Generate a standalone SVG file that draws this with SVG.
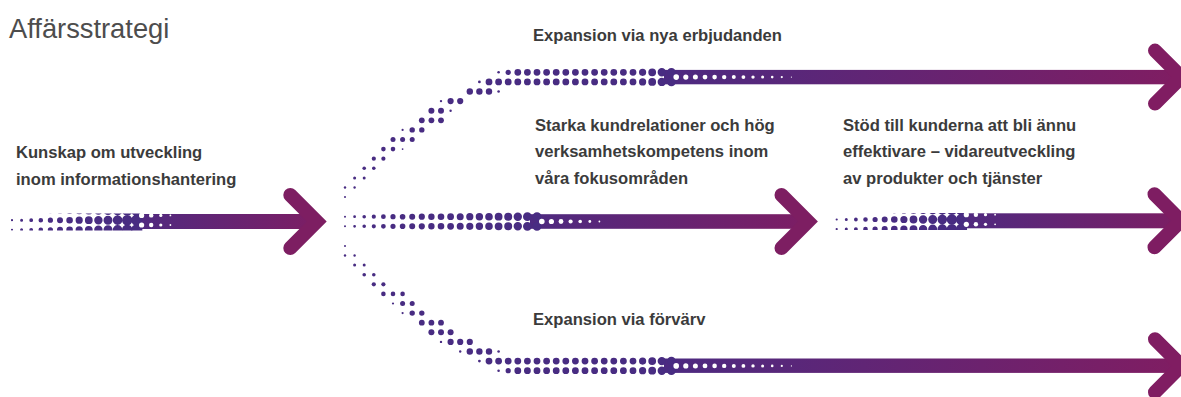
<svg xmlns="http://www.w3.org/2000/svg" xmlns:xlink="http://www.w3.org/1999/xlink" width="1181" height="397" viewBox="0 0 1181 397">
<style>
.dot{fill:#482c82}
.dl{fill:none;stroke:#482c82;stroke-linecap:round;stroke-dasharray:0.01 9.59}
.hole{fill:#fff}
.chev{fill:none;stroke-width:14;stroke-linecap:round;stroke-linejoin:miter;stroke-miterlimit:4}
.lbl{font-family:"Liberation Sans",Arial,sans-serif;font-weight:bold;font-size:16.6px;fill:#3b3b3b}
.title{font-family:"Liberation Sans",Arial,sans-serif;font-size:27.3px;fill:#4d4d4d}
</style>
<defs>
<linearGradient id="gA" gradientUnits="userSpaceOnUse" x1="137" y1="0" x2="322" y2="0"><stop offset="0" stop-color="#4f2a80"/><stop offset="1" stop-color="#7e1d63"/></linearGradient>
<linearGradient id="gB" gradientUnits="userSpaceOnUse" x1="530" y1="0" x2="815" y2="0"><stop offset="0" stop-color="#4d2a80"/><stop offset="1" stop-color="#7e1d63"/></linearGradient>
<linearGradient id="gC" gradientUnits="userSpaceOnUse" x1="961" y1="0" x2="1181" y2="0"><stop offset="0" stop-color="#4f2a80"/><stop offset="1" stop-color="#7c1e63"/></linearGradient>
<linearGradient id="gT" gradientUnits="userSpaceOnUse" x1="664" y1="0" x2="1181" y2="0"><stop offset="0" stop-color="#4c2a81"/><stop offset="1" stop-color="#801d62"/></linearGradient>
<clipPath id="cl1"><rect x="0" y="213.6" width="330" height="17"/></clipPath>
<g id="ht1">
<g clip-path="url(#cl1)">
<path class="dl" d="M12 210.6v19.21" stroke-width="2.2"/>
<path class="dl" d="M21.6 210.6v19.21" stroke-width="3"/>
<path class="dl" d="M31.2 210.6v19.21" stroke-width="3.8"/>
<path class="dl" d="M40.8 210.6v19.21" stroke-width="4.6"/>
<path class="dl" d="M50.4 210.6v19.21" stroke-width="5.2"/>
<path class="dl" d="M60 210.6v19.21" stroke-width="6"/>
<path class="dl" d="M69.6 210.6v19.21" stroke-width="6.6"/>
<path class="dl" d="M79.2 210.6v19.21" stroke-width="7.2"/>
<path class="dl" d="M88.8 210.6v19.21" stroke-width="7.8"/>
<path class="dl" d="M98.4 210.6v19.21" stroke-width="8.4"/>
<path class="dl" d="M108 210.6v19.21" stroke-width="9"/>
<path class="dl" d="M117.6 210.6v19.21" stroke-width="9.6"/>
<path class="dl" d="M127.2 210.6v19.21" stroke-width="10.4"/>
<path class="dl" d="M136.8 210.6v19.21" stroke-width="11.2"/>
</g>
<circle class="hole" cx="141.6" cy="215.4" r="2.6"/><circle class="hole" cx="141.6" cy="225" r="2.6"/>
<circle class="hole" cx="151.2" cy="215.4" r="2.2"/><circle class="hole" cx="151.2" cy="225" r="2.2"/>
<circle class="hole" cx="160.8" cy="215.4" r="1.6"/><circle class="hole" cx="160.8" cy="225" r="1.6"/>
<circle class="hole" cx="170.4" cy="215.4" r="0.9"/><circle class="hole" cx="170.4" cy="225" r="0.9"/>
</g>
</defs>
<rect width="1181" height="397" fill="#fff"/>

<g id="connectors">
 <g id="arrow-input">
  <rect x="136" y="214" width="182" height="15" fill="url(#gA)"/>
  <use xlink:href="#ht1" href="#ht1"/>
  <polyline class="chev" stroke="#7d1e62" points="290.3,195 316.8,221.5 290.3,248"/>
 </g>
 <g id="arrow-core">
  <rect x="530" y="214.2" width="279" height="14.6" fill="url(#gB)"/>
  <path class="dl" d="M345 216.7v9.61" stroke-width="2"/>
  <path class="dl" d="M354.6 216.7v9.61" stroke-width="2.8"/>
  <path class="dl" d="M364.2 216.7v9.61" stroke-width="3.6"/>
  <path class="dl" d="M373.8 216.7v9.61" stroke-width="4.2"/>
  <path class="dl" d="M383.4 216.7v9.61" stroke-width="4.8"/>
  <path class="dl" d="M393 216.7v9.61" stroke-width="5.2"/>
  <path class="dl" d="M402.6 216.7v9.61" stroke-width="5.6"/>
  <path class="dl" d="M412.2 216.7v9.61" stroke-width="6"/>
  <path class="dl" d="M421.8 216.7v9.61" stroke-width="6.2"/>
  <path class="dl" d="M431.4 216.7v9.61" stroke-width="6.4"/>
  <path class="dl" d="M441 216.7v9.61" stroke-width="6.6"/>
  <path class="dl" d="M450.6 216.7v9.61" stroke-width="6.8"/>
  <path class="dl" d="M460.2 216.7v9.61" stroke-width="7"/>
  <path class="dl" d="M469.8 216.7v9.61" stroke-width="7.2"/>
  <path class="dl" d="M479.4 216.7v9.61" stroke-width="7.4"/>
  <path class="dl" d="M489 216.7v9.61" stroke-width="7.6"/>
  <path class="dl" d="M498.6 216.7v9.61" stroke-width="7.8"/>
  <path class="dl" d="M508.2 216.7v9.61" stroke-width="8"/>
  <path class="dl" d="M517.8 216.7v9.61" stroke-width="8.4"/>
  <path class="dl" d="M527.4 216.7v9.61" stroke-width="8.8"/>
  <path class="dl" d="M537 216.7v9.61" stroke-width="9"/>
  <circle class="hole" cx="541.8" cy="221.5" r="2.8"/>
  <circle class="hole" cx="551.4" cy="221.5" r="2.6"/>
  <circle class="hole" cx="561" cy="221.5" r="2.4"/>
  <circle class="hole" cx="570.6" cy="221.5" r="2.1"/>
  <circle class="hole" cx="580.2" cy="221.5" r="1.8"/>
  <circle class="hole" cx="589.8" cy="221.5" r="1.4"/>
  <circle class="hole" cx="599.4" cy="221.5" r="0.9"/>
  <polyline class="chev" stroke="#7d1e62" points="781.5,195 808,221.5 781.5,248"/>
 </g>
 <g id="arrow-output">
  <rect x="961" y="213.3" width="220" height="15" fill="url(#gC)"/>
  <use xlink:href="#ht1" href="#ht1" x="824.7" y="-0.7"/>
  <polyline class="chev" stroke="#7e1d62" points="1154.5,194.3 1181,220.8 1154.5,247.3"/>
 </g>
 <g id="arrow-top">
  <rect x="664" y="69.9" width="517" height="14.4" fill="url(#gT)"/>
  <circle class="dot" cx="345" cy="197.1" r="1"/>
  <circle class="dot" cx="345" cy="187.5" r="1.2"/><circle class="dot" cx="354.6" cy="187.5" r="1.2"/>
  <circle class="dot" cx="354.6" cy="177.9" r="1.5"/><circle class="dot" cx="364.2" cy="177.9" r="1.5"/>
  <circle class="dot" cx="364.2" cy="168.3" r="1.8"/><circle class="dot" cx="373.8" cy="168.3" r="1.8"/>
  <circle class="dot" cx="373.8" cy="158.7" r="2.1"/><circle class="dot" cx="383.4" cy="158.7" r="2.1"/>
  <circle class="dot" cx="383.4" cy="149.1" r="2.3"/><circle class="dot" cx="393" cy="149.1" r="2.3"/><circle class="dot" cx="402.6" cy="149.1" r="0.9"/>
  <circle class="dot" cx="393" cy="139.5" r="2.5"/><circle class="dot" cx="402.6" cy="139.5" r="2.5"/><circle class="dot" cx="412.2" cy="139.5" r="2.5"/>
  <circle class="dot" cx="402.6" cy="129.9" r="1.1"/><circle class="dot" cx="412.2" cy="129.9" r="2.7"/><circle class="dot" cx="421.8" cy="129.9" r="2.7"/>
  <circle class="dot" cx="421.8" cy="120.3" r="2.9"/><circle class="dot" cx="431.4" cy="120.3" r="2.9"/><circle class="dot" cx="441" cy="120.3" r="2.9"/>
  <circle class="dot" cx="431.4" cy="110.7" r="3"/><circle class="dot" cx="441" cy="110.7" r="3"/><circle class="dot" cx="450.6" cy="110.7" r="1.2"/>
  <circle class="dot" cx="441" cy="101.1" r="1.2"/><circle class="dot" cx="450.6" cy="101.1" r="3.1"/><circle class="dot" cx="460.2" cy="101.1" r="3.1"/>
  <circle class="dot" cx="469.8" cy="91.5" r="3.2"/><circle class="dot" cx="479.4" cy="91.5" r="3.2"/><circle class="dot" cx="489" cy="91.5" r="3.2"/><circle class="dot" cx="498.6" cy="91.5" r="1.3"/>
  <circle class="dot" cx="479.4" cy="81.9" r="1.4"/>
  <circle class="dot" cx="498.6" cy="72.3" r="1.3"/><circle class="dot" cx="508.2" cy="72.3" r="2.6"/>
  <path class="dl" d="M489 81.9H633.01" stroke-width="6.8"/>
  <path class="dl" d="M517.8 72.3H633.01" stroke-width="6.8"/>
  <path class="dl" d="M642.6 72.3v9.61" stroke-width="7.2"/>
  <path class="dl" d="M652.2 72.3v9.61" stroke-width="7.8"/>
  <path class="dl" d="M661.8 72.3v9.61" stroke-width="8.4"/>
  <path class="dl" d="M671.4 72.3v9.61" stroke-width="8.8"/>
  <circle class="hole" cx="676.2" cy="77.1" r="2.8"/>
  <circle class="hole" cx="685.8" cy="77.1" r="2.6"/>
  <circle class="hole" cx="695.4" cy="77.1" r="2.5"/>
  <circle class="hole" cx="705" cy="77.1" r="2.4"/>
  <circle class="hole" cx="714.6" cy="77.1" r="2.3"/>
  <circle class="hole" cx="724.2" cy="77.1" r="2.2"/>
  <circle class="hole" cx="733.8" cy="77.1" r="2"/>
  <circle class="hole" cx="743.4" cy="77.1" r="1.9"/>
  <circle class="hole" cx="753" cy="77.1" r="1.7"/>
  <circle class="hole" cx="762.6" cy="77.1" r="1.5"/>
  <circle class="hole" cx="772.2" cy="77.1" r="1.3"/>
  <circle class="hole" cx="781.8" cy="77.1" r="1.1"/>
  <circle class="hole" cx="791.4" cy="77.1" r="0.6"/>
  <polyline class="chev" stroke="#801d62" points="1155,50.6 1181.5,77.1 1155,103.6"/>
 </g>
 <g id="arrow-bottom">
  <rect x="664" y="358.5" width="517" height="14.4" fill="url(#gT)"/>
  <circle class="dot" cx="345" cy="245.9" r="1"/>
  <circle class="dot" cx="345" cy="255.5" r="1.2"/><circle class="dot" cx="354.6" cy="255.5" r="1.2"/>
  <circle class="dot" cx="354.6" cy="265.1" r="1.5"/><circle class="dot" cx="364.2" cy="265.1" r="1.5"/>
  <circle class="dot" cx="364.2" cy="274.7" r="1.8"/><circle class="dot" cx="373.8" cy="274.7" r="1.8"/>
  <circle class="dot" cx="373.8" cy="284.3" r="2.1"/><circle class="dot" cx="383.4" cy="284.3" r="2.1"/>
  <circle class="dot" cx="383.4" cy="293.9" r="2.3"/><circle class="dot" cx="393" cy="293.9" r="2.3"/><circle class="dot" cx="402.6" cy="293.9" r="2.3"/>
  <circle class="dot" cx="393" cy="303.5" r="1.1"/><circle class="dot" cx="402.6" cy="303.5" r="2.5"/><circle class="dot" cx="412.2" cy="303.5" r="2.5"/>
  <circle class="dot" cx="402.6" cy="313.1" r="1.1"/><circle class="dot" cx="412.2" cy="313.1" r="2.7"/><circle class="dot" cx="421.8" cy="313.1" r="2.7"/>
  <circle class="dot" cx="421.8" cy="322.7" r="2.9"/><circle class="dot" cx="431.4" cy="322.7" r="2.9"/><circle class="dot" cx="441" cy="322.7" r="2.9"/>
  <circle class="dot" cx="431.4" cy="332.3" r="3"/><circle class="dot" cx="441" cy="332.3" r="3"/><circle class="dot" cx="450.6" cy="332.3" r="3"/>
  <circle class="dot" cx="441" cy="341.9" r="1.2"/><circle class="dot" cx="450.6" cy="341.9" r="3.1"/><circle class="dot" cx="460.2" cy="341.9" r="3.1"/><circle class="dot" cx="469.8" cy="341.9" r="3.1"/>
  <circle class="dot" cx="460.2" cy="351.5" r="1.2"/><circle class="dot" cx="469.8" cy="351.5" r="3.2"/><circle class="dot" cx="479.4" cy="351.5" r="3.2"/><circle class="dot" cx="489" cy="351.5" r="3.2"/><circle class="dot" cx="498.6" cy="351.5" r="1.3"/>
  <circle class="dot" cx="479.4" cy="361.1" r="1.4"/>
  <circle class="dot" cx="498.6" cy="370.7" r="1.3"/><circle class="dot" cx="508.2" cy="370.7" r="2.6"/>
  <path class="dl" d="M489 361.1H633.01" stroke-width="6.8"/>
  <path class="dl" d="M517.8 370.7H633.01" stroke-width="6.8"/>
  <path class="dl" d="M642.6 361.1v9.61" stroke-width="7.2"/>
  <path class="dl" d="M652.2 361.1v9.61" stroke-width="7.8"/>
  <path class="dl" d="M661.8 361.1v9.61" stroke-width="8.4"/>
  <path class="dl" d="M671.4 361.1v9.61" stroke-width="8.8"/>
  <circle class="hole" cx="676.2" cy="365.9" r="2.8"/>
  <circle class="hole" cx="685.8" cy="365.9" r="2.6"/>
  <circle class="hole" cx="695.4" cy="365.9" r="2.5"/>
  <circle class="hole" cx="705" cy="365.9" r="2.4"/>
  <circle class="hole" cx="714.6" cy="365.9" r="2.3"/>
  <circle class="hole" cx="724.2" cy="365.9" r="2.2"/>
  <circle class="hole" cx="733.8" cy="365.9" r="2"/>
  <circle class="hole" cx="743.4" cy="365.9" r="1.9"/>
  <circle class="hole" cx="753" cy="365.9" r="1.7"/>
  <circle class="hole" cx="762.6" cy="365.9" r="1.5"/>
  <circle class="hole" cx="772.2" cy="365.9" r="1.3"/>
  <circle class="hole" cx="781.8" cy="365.9" r="1.1"/>
  <circle class="hole" cx="791.4" cy="365.9" r="0.6"/>
  <polyline class="chev" stroke="#801d62" points="1155,339.2 1181.5,365.7 1155,392.2"/>
 </g>
</g>

<g id="title"><text class="title" x="9" y="38">Affärsstrategi</text></g>
<g id="node-kunskap">
 <text class="lbl" x="16" y="158">Kunskap om utveckling</text>
 <text class="lbl" x="16" y="185">inom informationshantering</text>
</g>
<g id="node-erbjudanden"><text class="lbl" x="533" y="41">Expansion via nya erbjudanden</text></g>
<g id="node-kundrelationer">
 <text class="lbl" x="535" y="130.5">Starka kundrelationer och hög</text>
 <text class="lbl" x="535" y="157">verksamhetskompetens inom</text>
 <text class="lbl" x="535" y="183.5">våra fokusområden</text>
</g>
<g id="node-stod">
 <text class="lbl" x="843" y="130.5">Stöd till kunderna att bli ännu</text>
 <text class="lbl" x="843" y="157">effektivare – vidareutveckling</text>
 <text class="lbl" x="843" y="183.5">av produkter och tjänster</text>
</g>
<g id="node-forvarv"><text class="lbl" x="533" y="325">Expansion via förvärv</text></g>
</svg>
